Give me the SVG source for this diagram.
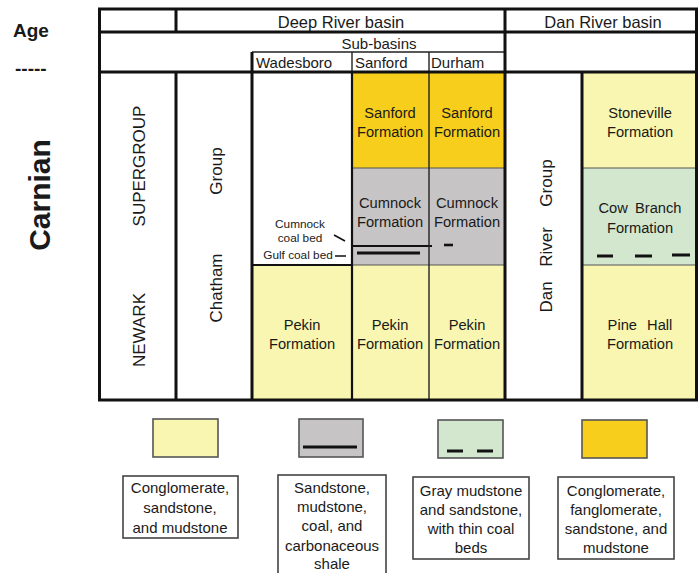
<svg xmlns="http://www.w3.org/2000/svg" width="698" height="573" viewBox="0 0 698 573">
  <style>
    text { font-family: "Liberation Sans", Arial, sans-serif; fill: #1a1a1a; }
    .hdr { font-size: 16.5px; text-anchor: middle; }
    .sub { font-size: 15px; text-anchor: middle; }
    .col { font-size: 15px; }
    .fm { font-size: 14.7px; text-anchor: middle; }
    .rot { font-size: 17px; text-anchor: middle; }
    .small { font-size: 11.8px; text-anchor: middle; }
    .leg { font-size: 15px; text-anchor: middle; }
    .age { font-weight: bold; font-size: 19px; }
    .yel { fill: #f8f6b0; }
    .gold { fill: #f7ce1c; }
    .gry { fill: #c7c4c5; }
    .grn { fill: #d3e7cf; }
    .thick { stroke: #111; stroke-width: 3; fill: none; }
    .mid { stroke: #111; stroke-width: 2.2; fill: none; }
    .thin { stroke: #222; stroke-width: 1.4; fill: none; }
    .soft { stroke: #555; stroke-width: 1.2; fill: none; }
    .coal { stroke: #111; fill: none; }
    .swatch { stroke: #555; stroke-width: 1.6; }
    .lbox { fill: #fff; stroke: #444; stroke-width: 1.6; }
  </style>

  <rect width="698" height="573" fill="#fff"/>

  <!-- age column -->
  <g id="age-label">
    <text class="age" x="13" y="37">Age</text>
    <text class="age" x="15" y="75">-----</text>
    <text x="0" y="0" font-weight="bold" font-size="30" text-anchor="middle" transform="translate(50,195) rotate(-90)">Carnian</text>
  </g>

  <!-- coloured formation cells -->
  <g id="cell-sanford-sanford">
    <rect class="gold" x="352" y="72" width="77" height="96"/>
    <text class="fm" x="390" y="118">Sanford</text>
    <text class="fm" x="390" y="137">Formation</text>
  </g>
  <g id="cell-sanford-durham">
    <rect class="gold" x="429" y="72" width="76" height="96"/>
    <text class="fm" x="467" y="118">Sanford</text>
    <text class="fm" x="467" y="137">Formation</text>
  </g>
  <g id="cell-cumnock-sanford">
    <rect class="gry" x="352" y="168" width="77" height="97"/>
    <text class="fm" x="390" y="208">Cumnock</text>
    <text class="fm" x="390" y="227">Formation</text>
  </g>
  <g id="cell-cumnock-durham">
    <rect class="gry" x="429" y="168" width="76" height="97"/>
    <text class="fm" x="467" y="208">Cumnock</text>
    <text class="fm" x="467" y="227">Formation</text>
  </g>
  <g id="cell-pekin-wadesboro">
    <rect class="yel" x="252" y="265" width="100" height="135"/>
    <text class="fm" x="302" y="330">Pekin</text>
    <text class="fm" x="302" y="349">Formation</text>
  </g>
  <g id="cell-pekin-sanford">
    <rect class="yel" x="352" y="265" width="77" height="135"/>
    <text class="fm" x="390" y="330">Pekin</text>
    <text class="fm" x="390" y="349">Formation</text>
  </g>
  <g id="cell-pekin-durham">
    <rect class="yel" x="429" y="265" width="76" height="135"/>
    <text class="fm" x="467" y="330">Pekin</text>
    <text class="fm" x="467" y="349">Formation</text>
  </g>
  <g id="cell-stoneville">
    <rect class="yel" x="582" y="72" width="116" height="96"/>
    <text class="fm" x="640" y="118">Stoneville</text>
    <text class="fm" x="640" y="137">Formation</text>
  </g>
  <g id="cell-cow-branch">
    <rect class="grn" x="582" y="168" width="116" height="97"/>
    <text class="fm" x="640" y="213" word-spacing="3">Cow Branch</text>
    <text class="fm" x="640" y="233">Formation</text>
    <path class="coal" stroke-width="3" d="M597 256H613M635 256H652M672 255H690"/>
  </g>
  <g id="cell-pine-hall">
    <rect class="yel" x="582" y="265" width="116" height="135"/>
    <text class="fm" x="640" y="330" word-spacing="6">Pine Hall</text>
    <text class="fm" x="640" y="349">Formation</text>
  </g>

  <!-- header cells -->
  <g id="hdr-deep-river">
    <text class="hdr" x="341" y="28">Deep River basin</text>
  </g>
  <g id="hdr-dan-river">
    <text class="hdr" x="603" y="28">Dan River basin</text>
  </g>
  <g id="hdr-sub-basins">
    <text class="sub" x="379" y="49">Sub-basins</text>
  </g>
  <g id="hdr-wadesboro"><text class="col" x="256" y="68">Wadesboro</text></g>
  <g id="hdr-sanford"><text class="col" x="355" y="68">Sanford</text></g>
  <g id="hdr-durham"><text class="col" x="431" y="68">Durham</text></g>

  <!-- rotated unit names -->
  <g id="newark-supergroup">
    <text class="rot" transform="translate(145,330) rotate(-90)">NEWARK</text>
    <text class="rot" transform="translate(145,166) rotate(-90)">SUPERGROUP</text>
  </g>
  <g id="chatham-group">
    <text class="rot" transform="translate(222,288) rotate(-90)">Chatham</text>
    <text class="rot" transform="translate(222,171) rotate(-90)">Group</text>
  </g>
  <g id="dan-river-group">
    <text class="rot" transform="translate(552,297) rotate(-90)">Dan</text>
    <text class="rot" transform="translate(552,247) rotate(-90)">River</text>
    <text class="rot" transform="translate(552,183) rotate(-90)">Group</text>
  </g>

  <!-- coal beds -->
  <g id="coal-beds">
    <text class="small" x="300" y="228">Cumnock</text>
    <text class="small" x="300" y="242">coal bed</text>
    <text class="small" x="298" y="259">Gulf coal bed</text>
    <path class="coal" stroke-width="1.6" d="M334 235L345 241M335 256H346"/>
    <path class="coal" stroke-width="2" d="M352 246H432"/>
    <path class="coal" stroke-width="3" d="M357 253H420"/>
    <path class="coal" stroke-width="2.6" d="M444 245H453"/>
  </g>

  <!-- table rules -->
  <g id="connectors">
    <path class="soft" d="M352 168H505M582 168H698M582 265H698M352 265H505"/>
    <path class="thin" d="M252 52H505M352 52V72M429 52V400"/>
    <path class="mid" d="M352 72V400M252 265H352"/>
    <path class="thick" d="M99 32H698M99 72H698M176 9V32M176 72V400M252 52V400M505 9V400M582 72V400"/>
    <rect class="thick" x="99.5" y="9" width="597" height="391"/>
  </g>

  <!-- legend -->
  <g id="legend-yellow">
    <rect class="yel swatch" x="153" y="419" width="65" height="38"/>
    <rect class="lbox" x="123" y="476" width="115" height="62"/>
    <text class="leg" x="180" y="493">Conglomerate,</text>
    <text class="leg" x="180" y="513">sandstone,</text>
    <text class="leg" x="180" y="533">and mudstone</text>
  </g>
  <g id="legend-gray">
    <rect class="gry swatch" x="299" y="419" width="64" height="38"/>
    <path class="coal" stroke-width="3" d="M303 447H357"/>
    <rect class="lbox" x="278" y="475" width="108" height="100"/>
    <text class="leg" x="332" y="493">Sandstone,</text>
    <text class="leg" x="332" y="512">mudstone,</text>
    <text class="leg" x="332" y="531">coal, and</text>
    <text class="leg" x="332" y="551">carbonaceous</text>
    <text class="leg" x="332" y="569">shale</text>
  </g>
  <g id="legend-green">
    <rect class="grn swatch" x="438" y="420" width="65" height="38"/>
    <path class="coal" stroke-width="3" d="M447 451H463M477 451H493"/>
    <rect class="lbox" x="413" y="477" width="116" height="82"/>
    <text class="leg" x="471" y="496">Gray mudstone</text>
    <text class="leg" x="471" y="515">and sandstone,</text>
    <text class="leg" x="471" y="534">with thin coal</text>
    <text class="leg" x="471" y="553">beds</text>
  </g>
  <g id="legend-gold">
    <rect class="gold swatch" x="582" y="420" width="65" height="38"/>
    <rect class="lbox" x="558" y="477" width="116" height="82"/>
    <text class="leg" x="616" y="496">Conglomerate,</text>
    <text class="leg" x="616" y="515">fanglomerate,</text>
    <text class="leg" x="616" y="534">sandstone, and</text>
    <text class="leg" x="616" y="553">mudstone</text>
  </g>
</svg>
